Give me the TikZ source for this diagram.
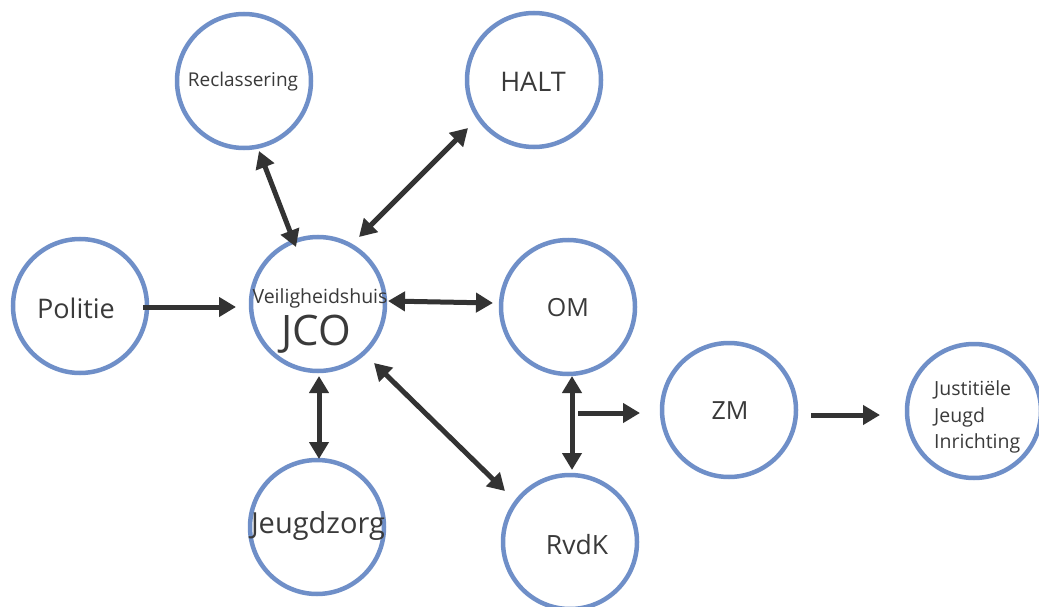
\documentclass[tikz,border=0pt]{standalone}
\usepackage{fontspec}
\setmainfont{Open Sans}
\usetikzlibrary{arrows.meta}
\definecolor{ringblue}{HTML}{6F8FC8}
\definecolor{arrowgrey}{HTML}{333333}
\definecolor{txtgrey}{HTML}{3A3A3A}
\begin{document}
\begin{tikzpicture}[x=1pt,y=-1pt,
  ring/.style={circle,draw=ringblue,line width=4.5pt,minimum size=134pt,inner sep=0pt,fill=white},
  lbl/.style={text=txtgrey,inner sep=0pt,font=\fontsize{#1}{#1}\selectfont},
  conn/.style={draw=arrowgrey,line width=5pt,-{Triangle[length=17pt,width=19pt]}},
  biconn/.style={draw=arrowgrey,line width=5pt,{Triangle[length=17pt,width=19pt]}-{Triangle[length=17pt,width=19pt]}}]
\useasboundingbox (0,0) rectangle (1039,607);
% circles
\node[ring] (recl) at (244,81) {};
\node[ring] (halt) at (534,80) {};
\node[ring] (pol) at (80,306) {};
\node[ring] (jco) at (318,304) {};
\node[ring] (om) at (568,307) {};
\node[ring] (zm) at (729,410) {};
\node[ring] (jji) at (974,411) {};
\node[ring] (jz) at (317,527) {};
\node[ring] (rvdk) at (570,542) {};
% labels
\node[lbl=19] (tRecl) at (243,82) {Reclassering};
\node[lbl=27] (tHalt) at (533,82) {HALT};
\node[lbl=27] (tPol) at (76,308) {Politie};
\node[lbl=19.5] (tVeil) at (320,298) {Veiligheidshuis};
\node[lbl=42] (tJco) at (316,334) {JCO};
\node[lbl=25] (tOm) at (568,308) {OM};
\node[lbl=25] (tZm) at (730,411) {ZM};
\node[lbl=29] (tJz) at (318,526) {Jeugdzorg};
\node[lbl=26.5] (tRvdk) at (577,545) {RvdK};
\node[lbl=19.5,anchor=west,align=left,font=\fontsize{19.5}{26.5}\selectfont] (tJji) at (934,417) {Justitiële\\Jeugd\\Inrichting};
% connector end points
\coordinate (a1) at (143,307); \coordinate (a2) at (236,307);
\coordinate (b1) at (388,301); \coordinate (b2) at (493,303);
\coordinate (c1) at (259,151); \coordinate (c2) at (296,247);
\coordinate (d1) at (468,128); \coordinate (d2) at (359,237);
\coordinate (e1) at (319,376); \coordinate (e2) at (319,459);
\coordinate (f1) at (374,363); \coordinate (f2) at (505,491);
\coordinate (g1) at (572,376); \coordinate (g2) at (572,470);
\coordinate (h1) at (578,413); \coordinate (h2) at (640,413);
\coordinate (i1) at (811,415); \coordinate (i2) at (880,415);
% connectors
\draw[conn] (a1) -- (a2);
\draw[biconn] (b1) -- (b2);
\draw[biconn] (c1) -- (c2);
\draw[biconn] (d1) -- (d2);
\draw[biconn] (e1) -- (e2);
\draw[biconn] (f1) -- (f2);
\draw[biconn] (g1) -- (g2);
\draw[conn] (h1) -- (h2);
\draw[conn] (i1) -- (i2);
\end{tikzpicture}
\end{document}
